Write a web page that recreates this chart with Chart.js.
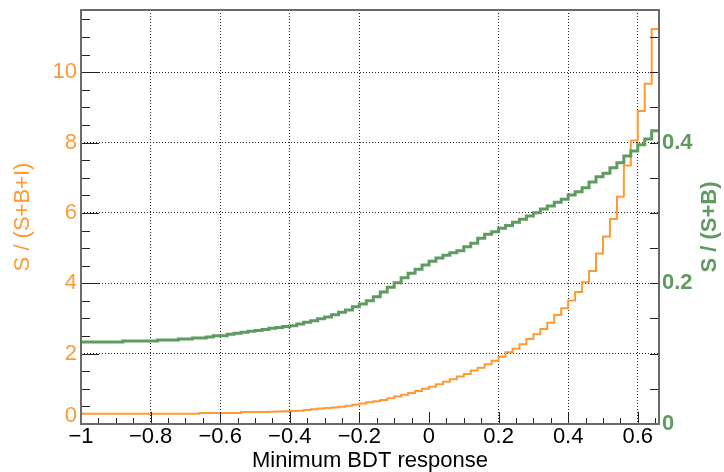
<!DOCTYPE html>
<html>
<head>
<meta charset="utf-8">
<script src="https://cdn.jsdelivr.net/npm/chart.js@4.4.1/dist/chart.umd.min.js"></script>
<style>
  html, body { margin: 0; padding: 0; background: #fff; }
  #wrap { width: 724px; height: 472px; }
</style>
</head>
<body>
<div id="wrap"><canvas id="chart" width="724" height="472"></canvas></div>
<script>
// Bin edges of the "Minimum BDT response" cut (0.02 wide), last one is the upper edge
const binEdges = [
  -1, -0.98, -0.96, -0.94, -0.92, -0.9, -0.88, -0.86, -0.84, -0.82,
  -0.8, -0.78, -0.76, -0.74, -0.72, -0.7, -0.68, -0.66, -0.64, -0.62,
  -0.6, -0.58, -0.56, -0.54, -0.52, -0.5, -0.48, -0.46, -0.44, -0.42,
  -0.4, -0.38, -0.36, -0.34, -0.32, -0.3, -0.28, -0.26, -0.24, -0.22,
  -0.2, -0.18, -0.16, -0.14, -0.12, -0.1, -0.08, -0.06, -0.04, -0.02,
  0, 0.02, 0.04, 0.06, 0.08, 0.1, 0.12, 0.14, 0.16, 0.18,
  0.2, 0.22, 0.24, 0.26, 0.28, 0.3, 0.32, 0.34, 0.36, 0.38,
  0.4, 0.42, 0.44, 0.46, 0.48, 0.5, 0.52, 0.54, 0.56, 0.58,
  0.6, 0.62, 0.64, 0.66
];

// S / (S+B+I)  (left axis, orange)
const sOverSBI = [
  0.29, 0.29, 0.29, 0.29, 0.29, 0.29, 0.29, 0.29, 0.29, 0.29,
  0.29, 0.29, 0.29, 0.29, 0.29, 0.29, 0.29, 0.31, 0.31, 0.31,
  0.31, 0.31, 0.31, 0.34, 0.34, 0.34, 0.34, 0.35, 0.355, 0.36,
  0.37, 0.38, 0.40, 0.42, 0.44, 0.455, 0.47, 0.49, 0.52, 0.55,
  0.58, 0.62, 0.645, 0.68, 0.73, 0.78, 0.83, 0.88, 0.94, 1.00,
  1.06, 1.13, 1.20, 1.27, 1.35, 1.42, 1.52, 1.60, 1.70, 1.80,
  1.91, 2.04, 2.14, 2.27, 2.42, 2.55, 2.70, 2.88, 3.10, 3.29,
  3.51, 3.75, 4.03, 4.35, 4.85, 5.33, 5.83, 6.46, 7.35, 8.06,
  8.90, 9.67, 11.23
];

// S / (S+B)  (right axis, green)
const sOverSB = [
  0.1166, 0.1166, 0.1166, 0.1166, 0.1166, 0.1166, 0.118, 0.118, 0.118, 0.118,
  0.118, 0.1194, 0.1194, 0.1194, 0.1208, 0.1208, 0.1222, 0.1222, 0.1237, 0.1256,
  0.1256, 0.1275, 0.1289, 0.1303, 0.1317, 0.133, 0.1345, 0.136, 0.137, 0.1385,
  0.1398, 0.1422, 0.1445, 0.1469, 0.1497, 0.1521, 0.1554, 0.1588, 0.162, 0.1668,
  0.1706, 0.1753, 0.181, 0.1877, 0.1943, 0.2009, 0.208, 0.2142, 0.2199, 0.226,
  0.2315, 0.236, 0.240, 0.2435, 0.2464, 0.252, 0.2569, 0.264, 0.2697, 0.2734,
  0.2782, 0.282, 0.2867, 0.291, 0.2957, 0.3004, 0.3057, 0.310, 0.3152, 0.3194,
  0.3256, 0.3303, 0.336, 0.344, 0.3516, 0.3564, 0.3644, 0.3715, 0.381, 0.388,
  0.397, 0.405, 0.417
];

// tick labels
const xTickLabels = ["\u22121", "\u22120.8", "\u22120.6", "\u22120.4", "\u22120.2", "0", "0.2", "0.4", "0.6"];
const leftTickLabels = ["0", "2", "4", "6", "8", "10"];
const rightTickLabels = ["0", "0.2", "0.4"];

const ORANGE = "#FF9933";
const GREEN = "#5F9B5F";
const FONT = "'Liberation Sans', Arial, Helvetica, sans-serif";

// histogram as step line: one point per bin low edge, plus the closing edge
function toSteps(values) {
  return binEdges.map((x, i) => ({ x: x, y: values[Math.min(i, values.length - 1)] }));
}

// ROOT-like frame, inner tick marks, right title and raised "0" label
const rootFrame = {
  id: "rootFrame",
  afterDatasetsDraw(chart) {
    const { ctx, chartArea: a, scales } = chart;
    ctx.save();

    ctx.strokeStyle = "#222";
    ctx.lineWidth = 1;
    ctx.beginPath();
    // x ticks every 0.05, major every 0.2
    for (let k = 0; k <= 33; k++) {
      const px = Math.round(scales.x.getPixelForValue(-1 + k * 0.05)) + 0.5;
      const len = k % 4 === 0 ? 12 : 6;
      ctx.moveTo(px, a.bottom);
      ctx.lineTo(px, a.bottom - len);
    }
    // left ticks every 0.5, major every 2
    for (let k = 0; k <= 23; k++) {
      const py = Math.round(scales.y.getPixelForValue(k * 0.5)) + 0.5;
      const len = k % 4 === 0 ? 18 : 9;
      ctx.moveTo(a.left, py);
      ctx.lineTo(a.left + len, py);
    }
    // right ticks every 0.05
    for (let k = 0; k <= 11; k++) {
      const py = Math.round(scales.y2.getPixelForValue(k * 0.05)) + 0.5;
      ctx.moveTo(a.right, py);
      ctx.lineTo(a.right - 9, py);
    }
    ctx.stroke();

    // frame
    ctx.strokeStyle = "#6a6a6a";
    ctx.lineWidth = 2;
    ctx.strokeRect(a.left, a.top, a.right - a.left, a.bottom - a.top);

    // right axis title, reads bottom to top
    ctx.fillStyle = GREEN;
    ctx.font = "bold 22px " + FONT;
    ctx.textAlign = "center";
    ctx.textBaseline = "middle";
    ctx.translate(a.right + 51, (a.top + a.bottom) / 2 + 10);
    ctx.rotate(-Math.PI / 2);
    ctx.fillText("S / (S+B)", 0, 0);
    ctx.restore();

    // left "0" sits a bit above its tick
    ctx.save();
    ctx.fillStyle = ORANGE;
    ctx.font = "22px " + FONT;
    ctx.textAlign = "right";
    ctx.textBaseline = "middle";
    ctx.fillText(leftTickLabels[0], a.left - 4, scales.y.getPixelForValue(0) - 8);
    ctx.restore();
  }
};

const gridColor = (ctx) => (ctx.tick && ctx.tick.value !== 0 && ctx.tick.value !== -1 ? "#222" : "rgba(0,0,0,0)");

new Chart(document.getElementById("chart"), {
  type: "line",
  data: {
    datasets: [
      {
        label: "S / (S+B)",
        data: toSteps(sOverSB),
        yAxisID: "y2",
        borderColor: GREEN,
        borderWidth: 3,
        stepped: true,
        pointRadius: 0,
        fill: false,
        order: 0
      },
      {
        label: "S / (S+B+I)",
        data: toSteps(sOverSBI),
        yAxisID: "y",
        borderColor: ORANGE,
        borderWidth: 2,
        stepped: true,
        pointRadius: 0,
        fill: false,
        order: 1
      }
    ]
  },
  options: {
    responsive: false,
    animation: false,
    devicePixelRatio: 1,
    layout: { padding: { top: 10, left: 0, right: 0, bottom: 0 } },
    plugins: { legend: { display: false }, tooltip: { enabled: false } },
    scales: {
      x: {
        type: "linear",
        position: "bottom",
        min: -1,
        max: 0.661,
        border: { display: false, dash: [1, 2] },
        grid: { color: gridColor, lineWidth: 1, drawTicks: false },
        ticks: {
          stepSize: 0.2,
          includeBounds: false,
          autoSkip: false,
          maxRotation: 0,
          padding: 2,
          color: "#000",
          font: { family: FONT, size: 22, lineHeight: 1 },
          callback: (v, i) => xTickLabels[i]
        },
        title: {
          display: true,
          text: "Minimum BDT response",
          color: "#000",
          font: { family: FONT, size: 22, lineHeight: 1 },
          padding: { top: 0, bottom: 0 }
        },
        afterFit(s) { s.height = 48; s.paddingLeft = 0; s.paddingRight = 0; }
      },
      y: {
        type: "linear",
        position: "left",
        min: 0,
        max: 11.77,
        border: { display: false, dash: [1, 2] },
        grid: { color: gridColor, lineWidth: 1, drawTicks: false },
        ticks: {
          stepSize: 2,
          includeBounds: false,
          autoSkip: false,
          padding: 4,
          color: ORANGE,
          font: { family: FONT, size: 22 },
          callback: (v, i) => (i === 0 ? "" : leftTickLabels[i])
        },
        title: {
          display: true,
          text: "S / (S+B+I)",
          color: ORANGE,
          font: { family: FONT, size: 22, lineHeight: 1 },
          padding: { top: 12, bottom: 0 }
        },
        afterFit(s) { s.width = 81; s.paddingTop = 0; s.paddingBottom = 0; }
      },
      y2: {
        type: "linear",
        position: "right",
        min: 0,
        max: 0.5885,
        border: { display: false },
        grid: { display: false, drawTicks: false },
        ticks: {
          stepSize: 0.2,
          includeBounds: false,
          autoSkip: false,
          padding: 3,
          color: GREEN,
          font: { family: FONT, size: 22, weight: "bold" },
          callback: (v, i) => rightTickLabels[i]
        },
        afterFit(s) { s.width = 65; s.paddingTop = 0; s.paddingBottom = 0; }
      }
    }
  },
  plugins: [rootFrame]
});
</script>
</body>
</html>
